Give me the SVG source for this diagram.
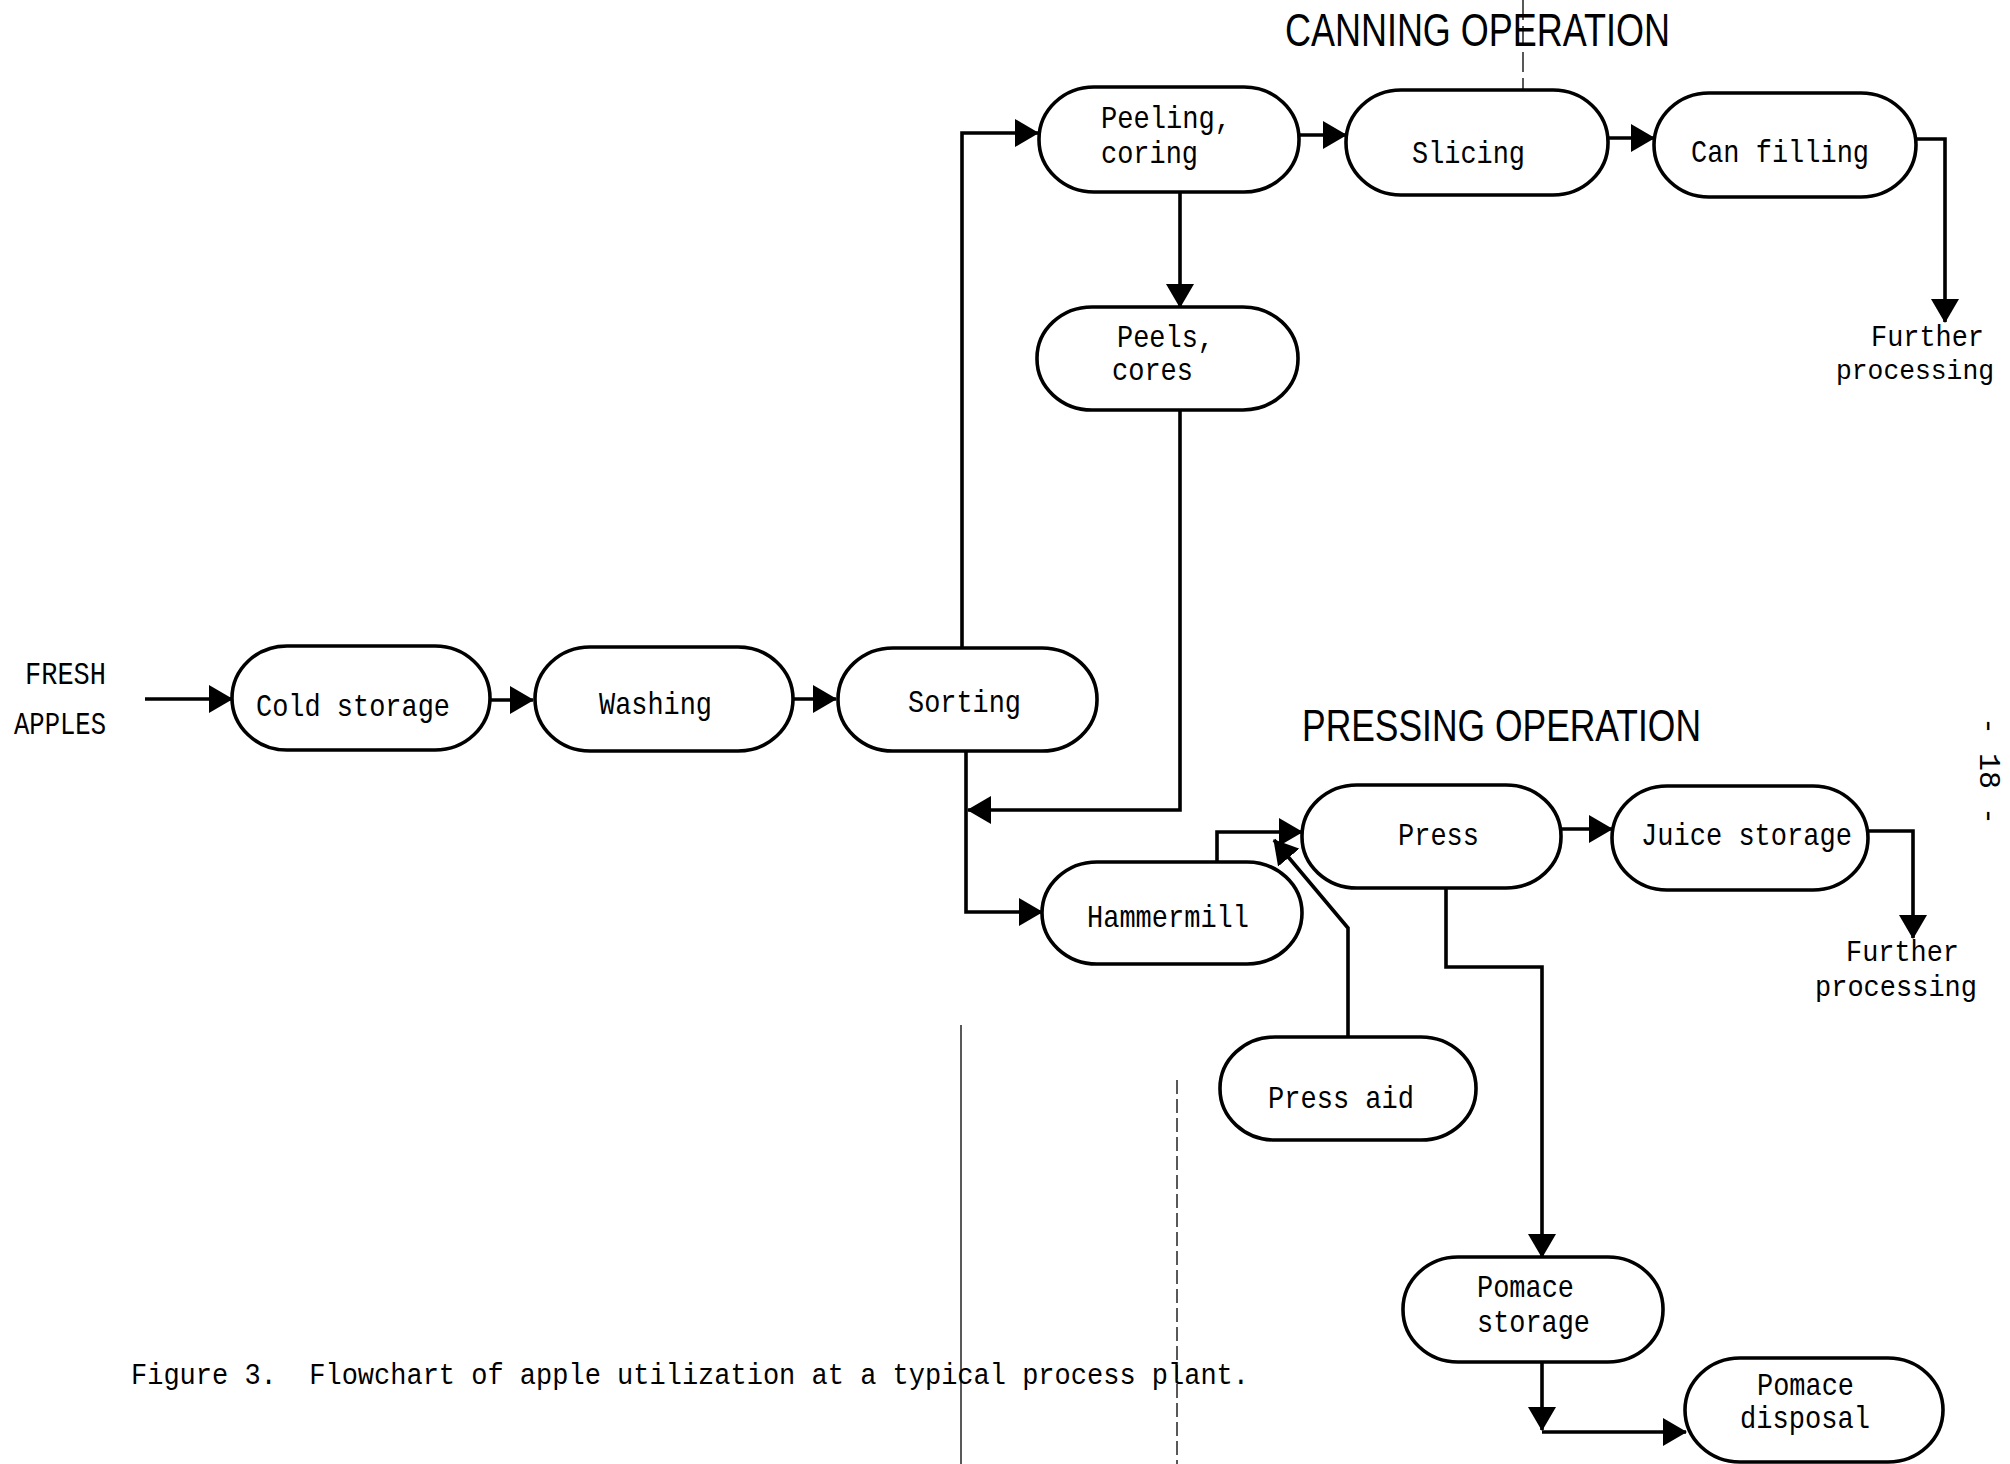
<svg xmlns="http://www.w3.org/2000/svg" width="2010" height="1464" viewBox="0 0 2010 1464">
<style>
.node rect{fill:#fff;stroke:#000;stroke-width:3.6}
.t{font-family:"Liberation Mono","DejaVu Sans Mono",monospace;font-size:32px;fill:#000}
.h{font-family:"Liberation Sans Narrow","Liberation Sans",sans-serif;fill:#000}
.c{fill:none;stroke:#000;stroke-width:3.6}
.scan{fill:none;stroke:#222;stroke-width:1.5}
</style>
<defs>
<marker id="ah" viewBox="0 0 24 28" markerWidth="24" markerHeight="28" refX="23" refY="14" orient="auto" markerUnits="userSpaceOnUse">
<path d="M0,0 L24,14 L0,28 Z" fill="#000"/>
</marker>
</defs>
<rect width="2010" height="1464" fill="#fff"/>

<g id="scan-marks">
<line class="scan" x1="961" y1="1025" x2="961" y2="1464"/>
<line class="scan" x1="1177" y1="1080" x2="1177" y2="1464" stroke-dasharray="14,5"/>
<line class="scan" x1="1523" y1="0" x2="1523" y2="150" stroke-dasharray="20,6"/>
</g>

<g id="headings">
<text class="h" x="1285" y="46" font-size="47" textLength="385" lengthAdjust="spacingAndGlyphs">CANNING OPERATION</text>
<text class="h" x="1302" y="741" font-size="45" textLength="399" lengthAdjust="spacingAndGlyphs">PRESSING OPERATION</text>
</g>

<g id="connectors">
<path class="c" d="M145,699 L232,699" marker-end="url(#ah)"/>
<path class="c" d="M490,700 L533,700" marker-end="url(#ah)"/>
<path class="c" d="M793,699 L836,699" marker-end="url(#ah)"/>
<path class="c" d="M962,648 L962,133 L1038,133" marker-end="url(#ah)"/>
<path class="c" d="M1299,135 L1346,135" marker-end="url(#ah)"/>
<path class="c" d="M1608,138 L1654,138" marker-end="url(#ah)"/>
<path class="c" d="M1916,139 L1945,139 L1945,322" marker-end="url(#ah)"/>
<path class="c" d="M1180,192 L1180,307" marker-end="url(#ah)"/>
<path class="c" d="M1180,410 L1180,810 L968,810" marker-end="url(#ah)"/>
<path class="c" d="M966,750 L966,912 L1042,912" marker-end="url(#ah)"/>
<path class="c" d="M1217,862 L1217,832 L1302,832" marker-end="url(#ah)"/>
<path class="c" d="M1348,1037 L1348,928 L1274,840" marker-end="url(#ah)"/>
<path class="c" d="M1561,829 L1612,829" marker-end="url(#ah)"/>
<path class="c" d="M1868,831 L1913,831 L1913,938" marker-end="url(#ah)"/>
<path class="c" d="M1446,888 L1446,967 L1542,967 L1542,1257" marker-end="url(#ah)"/>
<path class="c" d="M1542,1362 L1542,1430" marker-end="url(#ah)"/>
<path class="c" d="M1542,1432 L1686,1432" marker-end="url(#ah)"/>
</g>

<g id="fresh-apples">
<text class="t" x="25" y="684" textLength="81" lengthAdjust="spacingAndGlyphs">FRESH</text>
<text class="t" x="14" y="734" textLength="92" lengthAdjust="spacingAndGlyphs">APPLES</text>
</g>

<g id="cold-storage" class="node">
<rect x="232" y="646" width="258" height="104" rx="55" ry="52"/>
<text class="t" x="256" y="716" textLength="194" lengthAdjust="spacingAndGlyphs">Cold storage</text>
</g>
<g id="washing" class="node">
<rect x="535" y="647" width="258" height="104" rx="55" ry="52"/>
<text class="t" x="599" y="714" textLength="113" lengthAdjust="spacingAndGlyphs">Washing</text>
</g>
<g id="sorting" class="node">
<rect x="838" y="648" width="259" height="103" rx="55" ry="51"/>
<text class="t" x="908" y="712" textLength="113" lengthAdjust="spacingAndGlyphs">Sorting</text>
</g>
<g id="peeling-coring" class="node">
<rect x="1039" y="87" width="260" height="105" rx="55" ry="52"/>
<text class="t" x="1101" y="128" textLength="130" lengthAdjust="spacingAndGlyphs">Peeling,</text>
<text class="t" x="1101" y="163" textLength="97" lengthAdjust="spacingAndGlyphs">coring</text>
</g>
<g id="slicing" class="node">
<rect x="1346" y="90" width="262" height="105" rx="55" ry="52"/>
<text class="t" x="1412" y="163" textLength="113" lengthAdjust="spacingAndGlyphs">Slicing</text>
</g>
<g id="can-filling" class="node">
<rect x="1654" y="93" width="262" height="104" rx="55" ry="52"/>
<text class="t" x="1691" y="162" textLength="178" lengthAdjust="spacingAndGlyphs">Can filling</text>
</g>
<g id="further-processing-1">
<text class="t" x="1871" y="346" style="font-size:30px" textLength="113" lengthAdjust="spacingAndGlyphs">Further</text>
<text class="t" x="1836" y="379" style="font-size:28px" textLength="158" lengthAdjust="spacingAndGlyphs">processing</text>
</g>
<g id="peels-cores" class="node">
<rect x="1037" y="307" width="261" height="103" rx="55" ry="51"/>
<text class="t" x="1117" y="347" textLength="97" lengthAdjust="spacingAndGlyphs">Peels,</text>
<text class="t" x="1112" y="380" textLength="81" lengthAdjust="spacingAndGlyphs">cores</text>
</g>
<g id="press" class="node">
<rect x="1302" y="785" width="259" height="103" rx="55" ry="51"/>
<text class="t" x="1398" y="845" textLength="81" lengthAdjust="spacingAndGlyphs">Press</text>
</g>
<g id="juice-storage" class="node">
<rect x="1612" y="786" width="256" height="104" rx="55" ry="52"/>
<text class="t" x="1641" y="845" textLength="211" lengthAdjust="spacingAndGlyphs">Juice storage</text>
</g>
<g id="further-processing-2">
<text class="t" x="1846" y="961" style="font-size:30px" textLength="113" lengthAdjust="spacingAndGlyphs">Further</text>
<text class="t" x="1815" y="996" style="font-size:30px" textLength="162" lengthAdjust="spacingAndGlyphs">processing</text>
</g>
<g id="hammermill" class="node">
<rect x="1042" y="862" width="260" height="102" rx="55" ry="51"/>
<text class="t" x="1087" y="927" textLength="162" lengthAdjust="spacingAndGlyphs">Hammermill</text>
</g>
<g id="press-aid" class="node">
<rect x="1220" y="1037" width="256" height="103" rx="55" ry="51"/>
<text class="t" x="1268" y="1108" textLength="146" lengthAdjust="spacingAndGlyphs">Press aid</text>
</g>
<g id="pomace-storage" class="node">
<rect x="1403" y="1257" width="260" height="105" rx="55" ry="52"/>
<text class="t" x="1477" y="1297" textLength="97" lengthAdjust="spacingAndGlyphs">Pomace</text>
<text class="t" x="1477" y="1332" textLength="113" lengthAdjust="spacingAndGlyphs">storage</text>
</g>
<g id="pomace-disposal" class="node">
<rect x="1685" y="1358" width="258" height="104" rx="55" ry="52"/>
<text class="t" x="1757" y="1395" textLength="97" lengthAdjust="spacingAndGlyphs">Pomace</text>
<text class="t" x="1740" y="1428" textLength="130" lengthAdjust="spacingAndGlyphs">disposal</text>
</g>

<g id="caption">
<text class="t" x="131" y="1384" style="font-size:30px" textLength="1118" lengthAdjust="spacingAndGlyphs" xml:space="preserve">Figure 3.  Flowchart of apple utilization at a typical process plant.</text>
</g>
<g id="page-number">
<text class="t" transform="translate(1980,771) rotate(90)" x="0" y="0" style="font-size:30px" text-anchor="middle" xml:space="preserve">- 18 -</text>
</g>
</svg>
